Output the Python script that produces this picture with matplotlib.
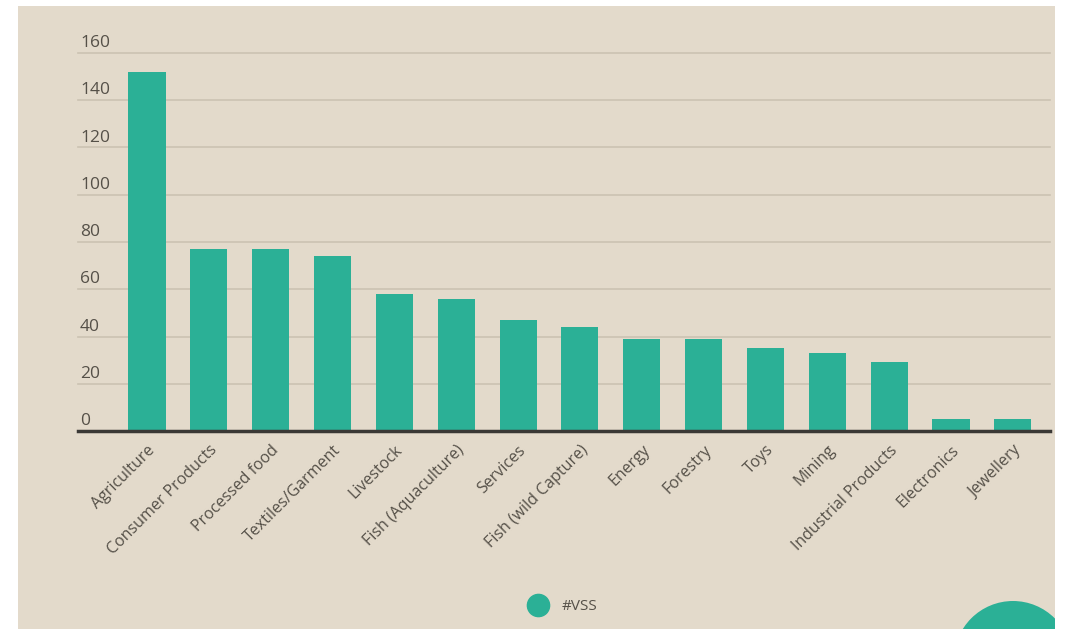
import matplotlib.pyplot as plt
import numpy as np
from matplotlib.lines import Line2D
from matplotlib.patches import Rectangle, Circle

sectors = ['Agriculture', 'Consumer Products', 'Processed food', 'Textiles/Garment',
           'Livestock', 'Fish (Aquaculture)', 'Services', 'Fish (wild Capture)',
           'Energy', 'Forestry', 'Toys', 'Mining', 'Industrial Products',
           'Electronics', 'Jewellery']
vss_counts = [152, 77, 77, 74, 58, 56, 47, 44, 39, 39, 35, 33, 29, 5, 5]
y_ticks = [0, 20, 40, 60, 80, 100, 120, 140, 160]
series_name = '#VSS'

bg = '#E3DACB'
teal = '#2BB096'
txt = '#555048'
grid_c = '#CBC2B2'

plt.rcParams['font.family'] = ['Open Sans', 'DejaVu Sans']

W, H = 1066, 629
fig = plt.figure(figsize=(W / 100, H / 100), dpi=100, facecolor='white')

# beige panel (white strip at left/top/right like the screenshot)
panel = Rectangle((18 / W, 0), (1055 - 18) / W, (H - 6) / H, transform=fig.transFigure,
                  facecolor=bg, edgecolor='none', zorder=-10)
fig.patches.append(panel)

# decorative circle bottom-right, clipped to the panel (inch coords -> round)
circ = Circle((10.13, (H - 660) / 100), 0.59, transform=fig.dpi_scale_trans,
              facecolor=teal, edgecolor='none', zorder=-5)
fig.patches.append(circ)
circ.set_clip_path(panel)

ax = fig.add_axes([78 / W, (H - 431) / H, (1050 - 78) / W, (431 - 53) / H])
ax.set_facecolor('none')

x = np.arange(len(sectors))
ax.bar(x, vss_counts, width=0.6, color=teal, zorder=2)

ax.set_xlim(-1.115, len(sectors) - 1 + 0.6)
ax.set_ylim(0, 160)

for yv in y_ticks[1:]:
    ax.axhline(yv, color=grid_c, lw=1.2, zorder=1, clip_on=False)
ax.axhline(0, color='#3A3835', lw=2.5, zorder=3, clip_on=False)

# value labels sit just above their gridline
for yv in y_ticks:
    ax.text(0.002, yv + 0.8, str(yv), transform=ax.get_yaxis_transform(),
            ha='left', va='bottom', fontsize=12.5, color=txt)

ax.set_yticks([])
ax.set_xticks(x)
ax.set_xticklabels(sectors, rotation=45, ha='right', rotation_mode='anchor',
                   fontsize=11.5, color=txt)
ax.tick_params(axis='x', length=0, pad=8)
for s in ax.spines.values():
    s.set_visible(False)

handle = Line2D([], [], marker='o', ls='', color=teal, markersize=16)
fig.legend(handles=[handle], labels=[series_name], loc='center',
           bbox_to_anchor=(560 / W, 1 - 607 / H), frameon=False,
           fontsize=11, labelcolor=txt, handletextpad=0.6)

fig.savefig('out.png', dpi=100, facecolor='white')
